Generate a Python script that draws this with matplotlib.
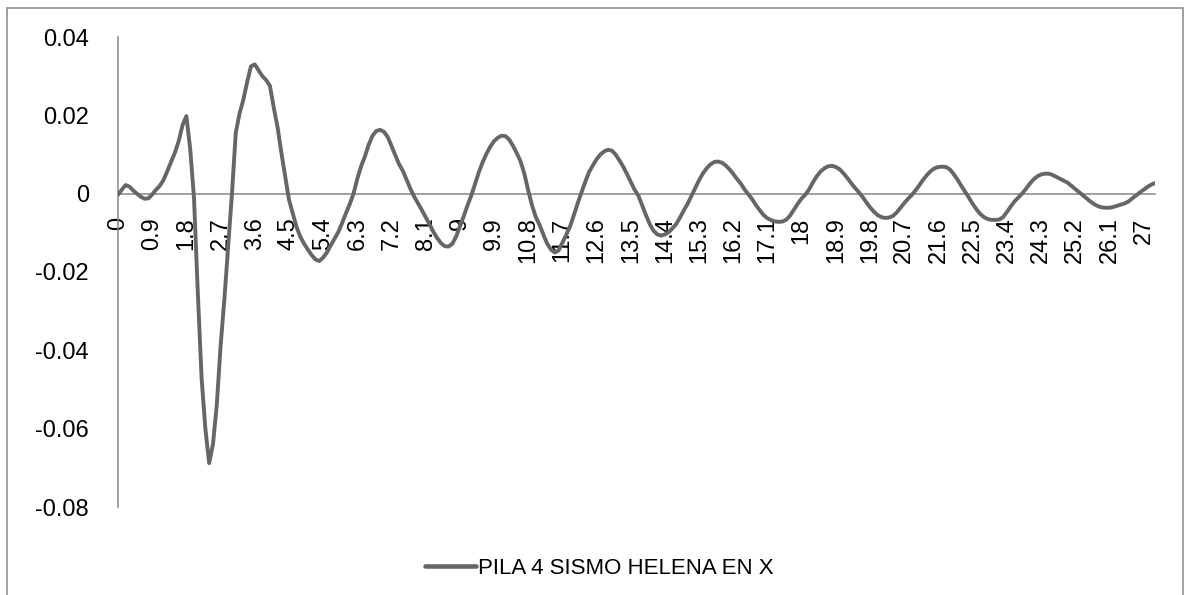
import matplotlib
matplotlib.use('Agg')
import matplotlib.pyplot as plt
from matplotlib.patches import Rectangle

plt.rcParams['font.family'] = ['Liberation Sans', 'DejaVu Sans']

# series, one value every 0.1 s from 0 to 27.3 s
series_name = "PILA 4 SISMO HELENA EN X"
values = [
    -0.0003, 0.0010, 0.0022, 0.0018, 0.0008, 0.0000, -0.0008, -0.0013, -0.0012, -0.0002,   # 0.0 - 0.9
    0.0010, 0.0020, 0.0035, 0.0058, 0.0082, 0.0105, 0.0135, 0.0175, 0.0198, 0.0115,        # 1.0 - 1.9
    -0.0010, -0.0250, -0.0470, -0.0600, -0.0688, -0.0640, -0.0540, -0.0390, -0.0270, -0.0135,  # 2.0 - 2.9
    0.0000, 0.0155, 0.0205, 0.0240, 0.0285, 0.0325, 0.0330, 0.0315, 0.0300, 0.0290,        # 3.0 - 3.9
    0.0275, 0.0220, 0.0170, 0.0105, 0.0045, -0.0015, -0.0050, -0.0085, -0.0110, -0.0128,   # 4.0 - 4.9
    -0.0143, -0.0157, -0.0168, -0.0172, -0.0163, -0.0150, -0.0132, -0.0115, -0.0098, -0.0075,  # 5.0 - 5.9
    -0.0050, -0.0027, 0.0000, 0.0038, 0.0070, 0.0095, 0.0125, 0.0148, 0.0160, 0.0163,      # 6.0 - 6.9
    0.0158, 0.0145, 0.0122, 0.0098, 0.0075, 0.0058, 0.0035, 0.0012, -0.0008, -0.0025,      # 7.0 - 7.9
    -0.0042, -0.0060, -0.0078, -0.0097, -0.0113, -0.0126, -0.0134, -0.0135, -0.0128, -0.0110,  # 8.0 - 8.9
    -0.0084, -0.0058, -0.0030, -0.0005, 0.0025, 0.0055, 0.0080, 0.0102, 0.0120, 0.0134,    # 9.0 - 9.9
    0.0143, 0.0148, 0.0147, 0.0138, 0.0122, 0.0103, 0.0082, 0.0050, 0.0008, -0.0030,       # 10.0 - 10.9
    -0.0060, -0.0080, -0.0105, -0.0128, -0.0143, -0.0150, -0.0145, -0.0125, -0.0105, -0.0084,  # 11.0 - 11.9
    -0.0055, -0.0025, 0.0003, 0.0030, 0.0055, 0.0072, 0.0088, 0.0100, 0.0108, 0.0112,      # 12.0 - 12.9
    0.0110, 0.0100, 0.0085, 0.0069, 0.0050, 0.0030, 0.0010, -0.0005, -0.0030, -0.0055,     # 13.0 - 13.9
    -0.0078, -0.0095, -0.0104, -0.0107, -0.0104, -0.0098, -0.0088, -0.0077, -0.0060, -0.0042,  # 14.0 - 14.9
    -0.0025, -0.0005, 0.0015, 0.0035, 0.0052, 0.0065, 0.0075, 0.0081, 0.0082, 0.0079,      # 15.0 - 15.9
    0.0072, 0.0062, 0.0050, 0.0037, 0.0025, 0.0010, -0.0002, -0.0015, -0.0030, -0.0043,    # 16.0 - 16.9
    -0.0055, -0.0063, -0.0068, -0.0071, -0.0072, -0.0071, -0.0066, -0.0055, -0.0040, -0.0025,  # 17.0 - 17.9
    -0.0012, -0.0002, 0.0012, 0.0030, 0.0045, 0.0057, 0.0065, 0.0070, 0.0071, 0.0068,      # 18.0 - 18.9
    0.0062, 0.0052, 0.0040, 0.0027, 0.0015, 0.0004, -0.0008, -0.0022, -0.0035, -0.0046,    # 19.0 - 19.9
    -0.0055, -0.0060, -0.0062, -0.0061, -0.0057, -0.0048, -0.0036, -0.0024, -0.0013, -0.0003,  # 20.0 - 20.9
    0.0009, 0.0022, 0.0036, 0.0048, 0.0058, 0.0065, 0.0068, 0.0069, 0.0068, 0.0062,        # 21.0 - 21.9
    0.0050, 0.0036, 0.0020, 0.0005, -0.0010, -0.0026, -0.0040, -0.0052, -0.0060, -0.0065,  # 22.0 - 22.9
    -0.0067, -0.0067, -0.0066, -0.0060, -0.0047, -0.0033, -0.0020, -0.0010, 0.0000, 0.0012,  # 23.0 - 23.9
    0.0025, 0.0036, 0.0044, 0.0049, 0.0051, 0.0051, 0.0048, 0.0043, 0.0038, 0.0033,        # 24.0 - 24.9
    0.0028, 0.0020, 0.0012, 0.0004, -0.0004, -0.0012, -0.0020, -0.0027, -0.0032, -0.0035,  # 25.0 - 25.9
    -0.0036, -0.0036, -0.0034, -0.0031, -0.0028, -0.0025, -0.0020, -0.0012, -0.0005, 0.0003,  # 26.0 - 26.9
    0.0010, 0.0017, 0.0023, 0.0027,                                                        # 27.0 - 27.3
]

# category labels shown on the axis (every 9th point)
x_labels = ["0", "0.9", "1.8", "2.7", "3.6", "4.5", "5.4", "6.3", "7.2", "8.1",
            "9", "9.9", "10.8", "11.7", "12.6", "13.5", "14.4", "15.3", "16.2", "17.1",
            "18", "18.9", "19.8", "20.7", "21.6", "22.5", "23.4", "24.3", "25.2", "26.1", "27"]
y_ticks = [-0.08, -0.06, -0.04, -0.02, 0, 0.02, 0.04]
y_labels = ["-0.08", "-0.06", "-0.04", "-0.02", "0", "0.02", "0.04"]

W, H = 1186, 595
fig = plt.figure(figsize=(W / 100, H / 100), dpi=100)
ax = fig.add_axes([118 / W, 1 - 507 / H, (1155 - 118) / W, (507 - 37) / H])

pos = list(range(len(values)))
ax.plot(pos, values, color='#666666', lw=2.8, solid_joinstyle='round',
        solid_capstyle='round', label=series_name, zorder=3)

ax.set_xlim(0, len(values) - 1)
ax.set_ylim(-0.08, 0.04)

axis_col = '#868686'
ax.spines['top'].set_visible(False)
ax.spines['right'].set_visible(False)
ax.spines['left'].set_color(axis_col)
ax.spines['left'].set_linewidth(1.1)
ax.spines['bottom'].set_position(('data', 0))
ax.spines['bottom'].set_color(axis_col)
ax.spines['bottom'].set_linewidth(1.1)

ax.set_xticks(pos[::9])
ax.set_xticklabels(x_labels, rotation=90, ha='center', va='top')
ax.set_yticks(y_ticks)
ax.set_yticklabels(y_labels)
ax.tick_params(axis='x', length=0, pad=17, labelsize=17)
ax.tick_params(axis='y', length=0, pad=21, labelsize=17)

# legend below the plot
leg = ax.legend(loc='center', bbox_to_anchor=(599 / W, 1 - 568 / H),
                bbox_transform=fig.transFigure, frameon=False,
                handlelength=2.3, handletextpad=0.1,
                prop={'family': ['Liberation Sans Narrow', 'Liberation Sans'], 'size': 16})
for h in leg.get_lines():
    h.set_linewidth(3.3)

# chart area border
fig.add_artist(Rectangle((7 / W, -0.02), (1183 - 7) / W, 1 - 8 / H + 0.02,
                         transform=fig.transFigure, fill=False,
                         ec=axis_col, lw=1.1))

fig.savefig('out.png', dpi=100)
